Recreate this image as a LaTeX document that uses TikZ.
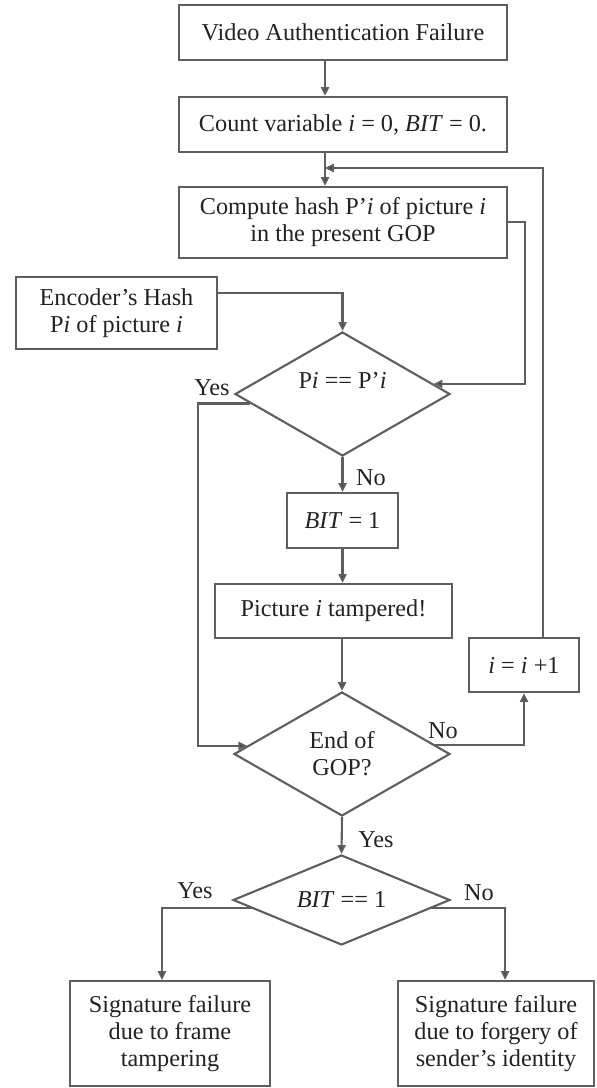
\documentclass[tikz,border=0pt]{standalone}
\usepackage{fontspec}
\setmainfont{Liberation Serif}
\usetikzlibrary{arrows.meta,positioning,shapes.geometric,calc}
\definecolor{edge}{HTML}{5E5E5E}
\definecolor{ink}{HTML}{222222}
\tikzset{
  box/.style={draw=edge, line width=1.2pt, inner sep=2pt, align=center,
              font=\fontsize{13.8}{15.4}\selectfont\color{ink}},
  decision/.style={diamond, aspect=2.4, draw=edge, line width=1.2pt, inner sep=0pt,
                   align=center, font=\fontsize{13.8}{15.4}\selectfont\color{ink}},
  flow/.style={-{Triangle[length=5pt,width=4.5pt,fill=ink]}, line width=1.2pt, draw=edge},
  lbl/.style={inner sep=0pt, font=\fontsize{13.8}{15.4}\selectfont\color{ink}}
}
\newcommand{\iv}{\textit{i}}

\begin{document}
\begin{tikzpicture}[x=0.02cm,y=-0.02cm]
  \useasboundingbox (0,0) rectangle (596,1088);
  % main column
  \node[box, minimum width=6.56cm, minimum height=1.10cm] (start) at (343,32.5) {Video Authentication Failure};
  \node[box, minimum width=6.56cm, minimum height=1.10cm] (init) at (343,124.5) {Count variable \iv{} = 0, \textit{BIT} = 0.};
  \node[box, minimum width=6.56cm, minimum height=1.42cm] (hash) at (343,222.5) {Compute hash P’\iv{} of picture \iv\\in the present GOP};
  \node[box, minimum width=4.02cm, minimum height=1.44cm] (enc) at (116.5,313) {Encoder’s Hash\\P\iv{} of picture \iv};
  \node[decision, minimum width=4.30cm, minimum height=2.48cm] (cmp) at (342.5,394) {P\iv{} == P’\iv\\\mbox{}};
  \node[box, minimum width=2.22cm, minimum height=1.10cm] (setbit) at (342.5,520.5) {\textit{BIT} = 1};
  \node[box, minimum width=4.74cm, minimum height=1.08cm] (tamp) at (333.5,611) {Picture \iv{} tampered!};
  \node[box, minimum width=2.20cm, minimum height=1.08cm] (inc) at (524,665) {\iv{} = \iv{} +1};
  \node[decision, minimum width=4.32cm, minimum height=2.48cm] (eog) at (342,754) {End of\\GOP?};
  \node[decision, minimum width=4.34cm, minimum height=1.80cm] (bitchk) at (341.5,900) {\textit{BIT} == 1};
  \node[box, minimum width=4.00cm, minimum height=2.10cm] (fail1) at (170,1033.5) {Signature failure\\due to frame\\tampering};
  \node[box, minimum width=3.92cm, minimum height=2.10cm] (fail2) at (496,1033.5) {Signature failure\\due to forgery of\\sender’s identity};

  % branch labels
  \node[lbl] (yes1) at (212,388) {Yes};
  \node[lbl] (no1) at (371,478) {No};
  \node[lbl] (no2) at (443,731) {No};
  \node[lbl] (yes2) at (376,840) {Yes};
  \node[lbl] (yes3) at (195,891) {Yes};
  \node[lbl] (no3) at (479,893) {No};

  % helper coordinates
  \coordinate (colL) at (325,0);
  \coordinate (loopR) at (543,0);
  \coordinate (loopY) at (0,168);
  \coordinate (sideR) at (525,0);
  \coordinate (yesL) at (198,0);
  \coordinate (yesB) at (162,0);
  \coordinate (noB) at (505,0);
  \coordinate (hashOut) at ($(hash.north east)+(0,36)$);
  \coordinate (cmpIn) at ($(cmp.north)!0.84!(cmp.east)$);
  \coordinate (encOut) at ($(enc.north east)+(0,17)$);
  \coordinate (cmpYes) at ($(cmp.west)!0.15!(cmp.south)$);
  \coordinate (eogIn) at ($(eog.west)!0.13!(eog.north)$);
  \coordinate (eogNo) at ($(eog.east)!0.145!(eog.north)$);
  \coordinate (bitYes) at ($(bitchk.west)!0.18!(bitchk.south)$);
  \coordinate (bitNo) at ($(bitchk.east)!0.18!(bitchk.south)$);

  % connectors
  \draw[flow] (start.south -| colL) -- (init.north -| colL);
  \draw[flow] (init.south -| colL) -- (hash.north -| colL);
  \draw[flow] (inc.north -| loopR) -- (loopR |- loopY) -- (colL |- loopY);
  \draw[flow] (hashOut) -- (hashOut -| sideR) -- (sideR |- cmpIn) -- (cmpIn);
  \draw[flow] (encOut) -| (cmp.north);
  \draw[flow] (cmpYes) -- (cmpYes -| yesL) -- (yesL |- eogIn) -- (eogIn);
  \draw[flow] (cmp.south) -- (setbit.north);
  \draw[flow] (setbit.south) -- (setbit.south |- tamp.north);
  \draw[flow] (tamp.south -| eog.north) -- (eog.north);
  \draw[flow] (eogNo) -| (inc.south);
  \draw[flow] (eog.south) -- (bitchk.north);
  \draw[flow] (bitYes) -- (bitYes -| yesB) -- (yesB |- fail1.north);
  \draw[flow] (bitNo) -- (bitNo -| noB) -- (noB |- fail2.north);
\end{tikzpicture}
\end{document}
